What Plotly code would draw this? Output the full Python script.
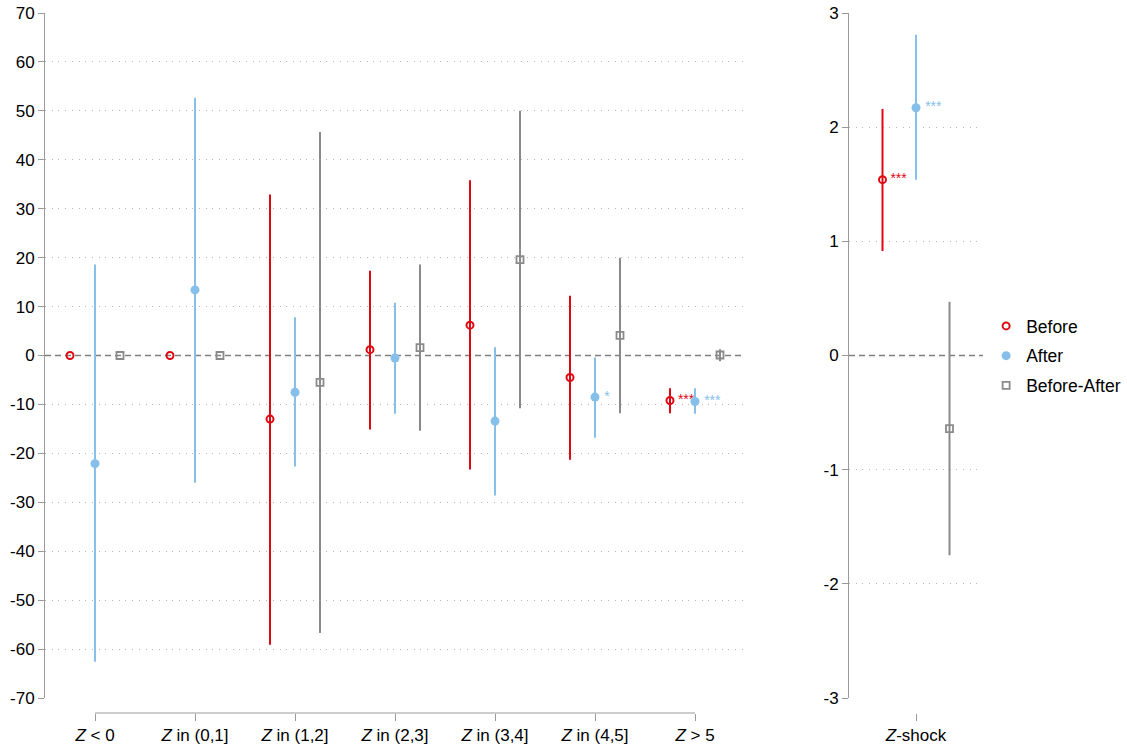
import numpy as np
import plotly.graph_objects as go

# ---- data ---------------------------------------------------------------
categories = ["<i>Z</i> < 0", "<i>Z</i> in (0,1]", "<i>Z</i> in (1,2]", "<i>Z</i> in (2,3]",
              "<i>Z</i> in (3,4]", "<i>Z</i> in (4,5]", "<i>Z</i> > 5"]

before_est = [0.0, 0.0, -13.0, 1.2, 6.2, -4.5, -9.2]
before_lo = [0.0, 0.0, -59.1, -15.1, -23.3, -21.3, -11.8]
before_hi = [0.0, 0.0, 32.9, 17.3, 35.8, 12.2, -6.7]
before_sig = ["", "", "", "", "", "", "***"]

after_est = [-22.1, 13.4, -7.5, -0.5, -13.4, -8.5, -9.4]
after_lo = [-62.6, -26.0, -22.7, -11.9, -28.6, -16.8, -11.9]
after_hi = [18.6, 52.7, 7.8, 10.8, 1.7, -0.4, -6.7]
after_sig = ["", "", "", "", "", "*", "***"]

diff_est = [0.0, 0.0, -5.5, 1.6, 19.6, 4.1, 0.1]
diff_lo = [0.0, 0.0, -56.7, -15.4, -10.8, -11.8, -1.2]
diff_hi = [0.0, 0.0, 45.7, 18.6, 50.0, 20.0, 1.3]
diff_sig = ["", "", "", "", "", "", ""]

shock_label = ["<i>Z</i>-shock"]
shock_before_est, shock_before_lo, shock_before_hi, shock_before_sig = [1.54], [0.915], [2.16], ["***"]
shock_after_est, shock_after_lo, shock_after_hi, shock_after_sig = [2.17], [1.54], [2.81], ["***"]
shock_diff_est, shock_diff_lo, shock_diff_hi, shock_diff_sig = [-0.64], [-1.75], [0.47], [""]

left_ticks = list(range(-70, 71, 10))
left_ticktext = [str(v) for v in left_ticks]
right_ticks = list(range(-3, 4))
right_ticktext = [str(v) for v in right_ticks]

# ---- style --------------------------------------------------------------
FONT = "Liberation Sans, Arial, Helvetica, sans-serif"
RED = "#dd0a14"
BLUE = "#86bfe9"
GREY = "#8a8a8a"
AXIS = "#9a9a9a"
GRID = "#b8b8b8"

series = [
    dict(name="Before", color=RED, symbol="circle-open", size=7, lw=2, off=-0.25),
    dict(name="After", color=BLUE, symbol="circle", size=9, lw=0, off=0.0),
    dict(name="Before-After", color=GREY, symbol="square-open", size=7, lw=1.8, off=0.25),
]

left_data = [(before_est, before_lo, before_hi, before_sig),
             (after_est, after_lo, after_hi, after_sig),
             (diff_est, diff_lo, diff_hi, diff_sig)]
right_data = [(shock_before_est, shock_before_lo, shock_before_hi, shock_before_sig),
              (shock_after_est, shock_after_lo, shock_after_hi, shock_after_sig),
              (shock_diff_est, shock_diff_lo, shock_diff_hi, shock_diff_sig)]

fig = go.Figure()


def add_series(s, est, lo, hi, sig, xa, ya, pos, legend):
    est = np.asarray(est, float)
    x = np.asarray(pos, float) + s["off"]
    fig.add_trace(go.Scatter(
        x=x, y=est, mode="markers", name=s["name"], legendgroup=s["name"],
        showlegend=legend, xaxis=xa, yaxis=ya,
        marker=dict(symbol=s["symbol"], size=s["size"], color=s["color"],
                    line=dict(width=s["lw"], color=s["color"])),
        error_y=dict(type="data", symmetric=False,
                     array=np.asarray(hi, float) - est,
                     arrayminus=est - np.asarray(lo, float),
                     color=s["color"], thickness=2, width=0),
        hoverinfo="skip"))
    # significance stars beside the estimate
    fig.add_trace(go.Scatter(
        x=x, y=est, mode="markers+text", text=sig, textposition="middle right",
        textfont=dict(family=FONT, size=14, color=s["color"]),
        marker=dict(size=s["size"] + 4, opacity=0), showlegend=False,
        legendgroup=s["name"], xaxis=xa, yaxis=ya, hoverinfo="skip"))


for s, (est, lo, hi, sig) in zip(series, left_data):
    add_series(s, est, lo, hi, sig, "x", "y", np.arange(len(categories)), True)
for s, (est, lo, hi, sig) in zip(series, right_data):
    add_series(s, est, lo, hi, sig, "x2", "y2", np.arange(len(shock_label)), False)

# ---- layout -------------------------------------------------------------
W, H = 1127, 750
BOTTOM = 37                       # x-axis baseline sits at the bottom of the paper
PH = H - BOTTOM
ydom = [15 / PH, 1 - 13 / PH]

yaxis_common = dict(
    showline=True, linecolor=AXIS, linewidth=1, ticks="outside", ticklen=6,
    tickcolor=AXIS, tickfont=dict(family=FONT, size=17, color="black"),
    showgrid=True, gridcolor=GRID, gridwidth=1, griddash="1px,5.7px",
    zeroline=True, zerolinecolor="rgba(0,0,0,0)", domain=ydom, fixedrange=True)

xaxis_common = dict(
    anchor="free", position=0, showline=False, showgrid=False, zeroline=False,
    ticks="outside", ticklen=7, tickcolor=AXIS,
    tickfont=dict(family=FONT, size=17, color="black"), fixedrange=True)

fig.update_layout(
    width=W, height=H, margin=dict(l=0, r=0, t=0, b=BOTTOM, autoexpand=False),
    paper_bgcolor="white", plot_bgcolor="white",
    font=dict(family=FONT, size=17, color="black"),
    xaxis=dict(**xaxis_common, domain=[45 / W, 745 / W], range=[-0.5, len(categories) - 0.5],
               tickmode="array", tickvals=list(range(len(categories))), ticktext=categories),
    yaxis=dict(**yaxis_common, anchor="x", range=[-70, 70], tickmode="array",
               tickvals=left_ticks, ticktext=left_ticktext),
    xaxis2=dict(**xaxis_common, domain=[849 / W, 983 / W], range=[-0.5, len(shock_label) - 0.5],
                tickmode="array", tickvals=list(range(len(shock_label))), ticktext=shock_label),
    yaxis2=dict(**yaxis_common, anchor="x2", range=[-3, 3], tickmode="array",
                tickvals=right_ticks, ticktext=right_ticktext),
    legend=dict(x=0.875, y=(H - BOTTOM - 356) / PH, xanchor="left", yanchor="middle",
                font=dict(family=FONT, size=17.5, color="black"), bgcolor="rgba(0,0,0,0)",
                traceorder="grouped", tracegroupgap=4, itemwidth=30),
    showlegend=True,
)

# dashed reference line at zero in both panels
for xr, yr in (("x domain", "y"), ("x2 domain", "y2")):
    fig.add_shape(type="line", xref=xr, yref=yr, x0=0, x1=1, y0=0, y1=0,
                  line=dict(color="#7f7f7f", width=1.6, dash="6px,4px"), layer="below")

# category axis baseline runs from the first to the last category tick
fig.add_shape(type="line", xref="x", yref="paper", x0=0, x1=len(categories) - 1, y0=0, y1=0,
              line=dict(color=AXIS, width=1))

fig.write_html("out.html")
